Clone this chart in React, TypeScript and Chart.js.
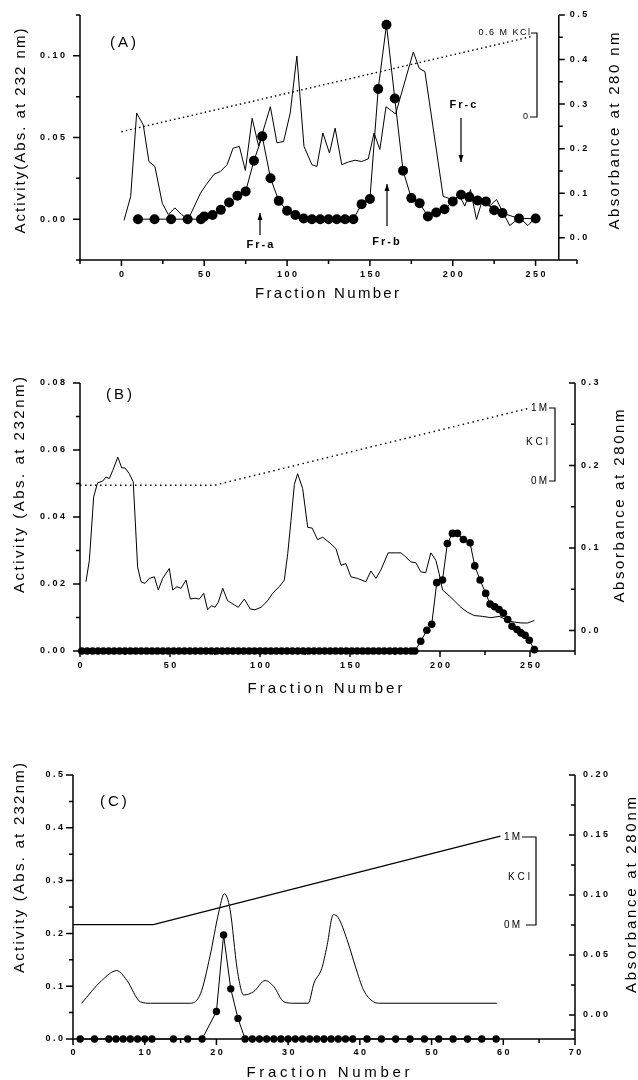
import React, { useEffect, useRef } from "react";
import { Chart, registerables } from "chart.js";

Chart.register(...registerables);

const FONT = "'Liberation Sans', Arial, Helvetica, sans-serif";

// ---------------- Panel A ----------------
const A_ACT_FRAC = [10, 20, 30, 40, 48, 50, 55, 60, 65, 70, 75, 80, 85, 90, 95, 100, 105, 110, 115, 120, 125, 130, 135, 140, 145, 150, 155, 160, 165, 170, 175, 180, 185, 190, 195, 200, 205, 210, 215, 220, 225, 230, 240, 250];
const A_ACT = [0, 0, 0, 0, 0, 0.0017, 0.0025, 0.0057, 0.0102, 0.0143, 0.017, 0.0358, 0.0507, 0.025, 0.0112, 0.0051, 0.0025, 0.0004, 0, 0, 0, 0, 0, 0, 0.0092, 0.0123, 0.0797, 0.119, 0.0739, 0.0297, 0.0129, 0.0098, 0.0017, 0.0041, 0.0061, 0.0108, 0.0149, 0.0135, 0.0114, 0.0108, 0.0055, 0.0037, 0.0004, 0.0004];
const A_ABS_FRAC = [1.6, 5.6, 9.2, 13.2, 16.6, 20.2, 24.7, 28.3, 32.3, 36.3, 40.3, 47.7, 51.2, 55.8, 59.8, 63.8, 67.4, 71.2, 74.8, 78.9, 82.8, 89.9, 93.9, 97.9, 101.9, 105.9, 110.2, 115, 118, 121.6, 125.6, 129, 133, 137, 141, 145, 149, 152.5, 156, 159.7, 163, 165.5, 176.2, 179.8, 183.2, 194.2, 199.3, 204.3, 207.3, 210.7, 214.3, 218, 222, 226.4, 230.4, 234.4, 238.4, 242, 245.4, 248.4];
const A_ABS = [0.039, 0.093, 0.28, 0.253, 0.171, 0.16, 0.077, 0.052, 0.067, 0.052, 0.041, 0.1, 0.119, 0.142, 0.149, 0.164, 0.201, 0.205, 0.151, 0.268, 0.206, 0.294, 0.213, 0.216, 0.28, 0.408, 0.205, 0.164, 0.16, 0.235, 0.19, 0.246, 0.164, 0.17, 0.174, 0.171, 0.177, 0.235, 0.198, 0.294, 0.285, 0.278, 0.417, 0.38, 0.373, 0.093, 0.086, 0.093, 0.071, 0.108, 0.041, 0.086, 0.07, 0.086, 0.056, 0.0275, 0.039, 0.039, 0.0275, 0.039];
const A_KCL_FRAC = [0, 248];
const A_KCL = [0.238, 0.452];
const A_X_TICKS = [0, 50, 100, 150, 200, 250];
const A_X_MINOR = [-25, 25, 75, 125, 175, 225, 275];
const A_L_TICKS = [0, 0.05, 0.1];
const A_L_MINOR = [-0.025, 0.025, 0.075, 0.125];
const A_R_TICKS = [0, 0.1, 0.2, 0.3, 0.4, 0.5];
const A_R_MINOR = [-0.05, 0.05, 0.15, 0.25, 0.35, 0.45];

// ---------------- Panel B ----------------
const B_ACT_FRAC = [1, 4, 7, 10, 13, 16, 19, 22, 25, 28, 31, 34, 37, 40, 43, 46, 49, 52, 55, 58, 61, 64, 67, 70, 73, 76, 79, 82, 85, 88, 91, 94, 97, 100, 103, 106, 109, 112, 115, 118, 121, 124, 127, 130, 133, 136, 139, 142, 145, 148, 151, 154, 157, 160, 163, 166, 169, 172, 175, 178, 181, 184, 186, 189.3, 192.7, 195.4, 198.2, 201.4, 204.1, 206.9, 209.7, 213, 216.7, 219.3, 222.3, 225.4, 227.8, 230.4, 232.8, 235.2, 237.6, 240, 242.8, 245, 247.3, 249.6, 252.4];
const B_ACT = [0, 0, 0, 0, 0, 0, 0, 0, 0, 0, 0, 0, 0, 0, 0, 0, 0, 0, 0, 0, 0, 0, 0, 0, 0, 0, 0, 0, 0, 0, 0, 0, 0, 0, 0, 0, 0, 0, 0, 0, 0, 0, 0, 0, 0, 0, 0, 0, 0, 0, 0, 0, 0, 0, 0, 0, 0, 0, 0, 0, 0, 0, 0, 0.0029, 0.0062, 0.008, 0.0204, 0.0212, 0.0321, 0.0351, 0.0351, 0.0333, 0.0323, 0.0254, 0.0212, 0.0172, 0.014, 0.0132, 0.0124, 0.0113, 0.0094, 0.0074, 0.0064, 0.0054, 0.0047, 0.0032, 0.0004];
const B_ABS_FRAC = [3.3, 5.2, 7.6, 9.8, 12.6, 14.4, 16.3, 18.2, 21, 23.2, 25, 27.4, 29.6, 32, 33.9, 36.1, 38.5, 41.3, 43.5, 45.9, 49.6, 51.5, 53.9, 56.1, 58.9, 61.3, 63.9, 66.3, 68.7, 70.9, 73.1, 75, 76.8, 79.3, 82, 85.7, 87.9, 91.3, 94.6, 97.2, 100.6, 104.3, 107, 110.7, 113.5, 115.4, 117.2, 119.1, 120.9, 123.7, 126.5, 129, 132, 134.8, 139.4, 142.2, 145, 147.7, 150.5, 154.2, 158.8, 161.6, 164.4, 167.1, 171.2, 175.5, 178.3, 181, 183.8, 186.6, 189.3, 192.1, 194.9, 197.7, 199.5, 201.4, 205.1, 207.9, 211.6, 215.3, 219, 223.7, 228.3, 232.9, 237.6, 241.3, 245, 248.7, 252.4];
const B_ABS = [0.059, 0.085, 0.162, 0.179, 0.181, 0.186, 0.184, 0.194, 0.21, 0.197, 0.197, 0.19, 0.18, 0.077, 0.059, 0.057, 0.063, 0.065, 0.049, 0.063, 0.075, 0.049, 0.053, 0.051, 0.061, 0.038, 0.039, 0.038, 0.045, 0.025, 0.03, 0.028, 0.034, 0.051, 0.036, 0.031, 0.028, 0.038, 0.026, 0.025, 0.028, 0.036, 0.045, 0.053, 0.061, 0.093, 0.133, 0.177, 0.19, 0.172, 0.125, 0.124, 0.11, 0.113, 0.105, 0.099, 0.079, 0.081, 0.065, 0.063, 0.059, 0.072, 0.063, 0.073, 0.094, 0.094, 0.094, 0.089, 0.083, 0.082, 0.071, 0.07, 0.094, 0.085, 0.069, 0.049, 0.042, 0.036, 0.028, 0.022, 0.018, 0.017, 0.0154, 0.017, 0.012, 0.01, 0.009, 0.009, 0.012];
const B_KCL_FRAC = [0, 74.6, 248.7];
const B_KCL = [0.176, 0.176, 0.269];
const B_X_TICKS = [0, 50, 100, 150, 200, 250];
const B_X_MINOR = [25, 75, 125, 175, 225, 275];
const B_L_TICKS = [0, 0.02, 0.04, 0.06, 0.08];
const B_L_MINOR = [0.01, 0.03, 0.05, 0.07];
const B_R_TICKS = [0, 0.1, 0.2, 0.3];
const B_R_MINOR = [0.05, 0.15, 0.25];

// ---------------- Panel C ----------------
const C_ACT_FRAC = [1, 3, 5, 6, 7, 8, 9, 10, 11, 14, 16, 18, 20, 21, 22, 23, 24, 25, 26, 27, 28, 29, 30, 31, 32, 33, 34, 35, 36, 37, 38, 39, 41, 43, 45, 47, 49, 51, 53, 55, 57, 59];
const C_ACT = [0, 0, 0, 0, 0, 0, 0, 0, 0, 0, 0, 0, 0.052, 0.197, 0.095, 0.039, 0, 0, 0, 0, 0, 0, 0, 0, 0, 0, 0, 0, 0, 0, 0, 0, 0, 0, 0, 0, 0, 0, 0, 0, 0, 0];
const C_ABS_FRAC = [1.2, 4, 6.1, 7.5, 9.4, 10.8, 16.4, 17.8, 19.1, 20.3, 21.1, 21.9, 22.9, 23.8, 25.2, 26.8, 28, 29.4, 30.8, 32.8, 33.6, 34.7, 35.4, 36.3, 37, 38.2, 39.4, 40.5, 41.9, 42.8, 59.1];
const C_ABS = [0.0098, 0.0287, 0.037, 0.029, 0.011, 0.0098, 0.0098, 0.018, 0.049, 0.085, 0.101, 0.088, 0.038, 0.0167, 0.0195, 0.0287, 0.0237, 0.011, 0.0098, 0.0098, 0.0265, 0.039, 0.057, 0.0836, 0.081, 0.063, 0.04, 0.021, 0.011, 0.0098, 0.0098];
const C_KCL_FRAC = [0, 11.2, 59.6];
const C_KCL = [0.0753, 0.0753, 0.149];
const C_X_TICKS = [0, 10, 20, 30, 40, 50, 60, 70];
const C_X_MINOR = [5, 15, 25, 35, 45, 55, 65];
const C_L_TICKS = [0, 0.1, 0.2, 0.3, 0.4, 0.5];
const C_L_MINOR = [0.05, 0.15, 0.25, 0.35, 0.45];
const C_R_TICKS = [0, 0.05, 0.1, 0.15, 0.2];
const C_R_MINOR = [-0.0125, 0.025, 0.075, 0.125, 0.175];

const pts = (xs: number[], ys: number[]) => xs.map((x, i) => ({ x, y: ys[i] }));

function spacedText(ctx: CanvasRenderingContext2D, text: string, x: number, y: number, align: string, spacing: number) {
  const chars = Array.from(text);
  const widths = chars.map((c) => ctx.measureText(c).width);
  const total = widths.reduce((s, w) => s + w, 0) + spacing * (chars.length - 1);
  let cx = align === "left" ? x : align === "right" ? x - total : x - total / 2;
  ctx.textAlign = "left";
  chars.forEach((c, i) => {
    ctx.fillText(c, cx, y);
    cx += widths[i] + spacing;
  });
}

function fittedText(ctx: CanvasRenderingContext2D, text: string, cx: number, cy: number, width: number, font: string, rotate: boolean) {
  ctx.save();
  ctx.font = font;
  ctx.fillStyle = "#000";
  ctx.textBaseline = "middle";
  ctx.translate(cx, cy);
  if (rotate) ctx.rotate(-Math.PI / 2);
  const chars = Array.from(text);
  const natural = chars.reduce((s, c) => s + ctx.measureText(c).width, 0);
  const sp = Math.max(0, (width - natural) / (chars.length - 1));
  spacedText(ctx, text, 0, 0, "center", sp);
  ctx.restore();
}

function label(ctx: CanvasRenderingContext2D, text: string, x: number, y: number, align: string, font: string, spacing: number) {
  ctx.save();
  ctx.font = font;
  ctx.fillStyle = "#000";
  ctx.textBaseline = "middle";
  spacedText(ctx, text, x, y, align, spacing);
  ctx.restore();
}

function poly(ctx: CanvasRenderingContext2D, p: number[][], w: number) {
  ctx.save();
  ctx.strokeStyle = "#000";
  ctx.lineWidth = w;
  ctx.beginPath();
  p.forEach(([x, y], i) => (i ? ctx.lineTo(x, y) : ctx.moveTo(x, y)));
  ctx.stroke();
  ctx.restore();
}

function arrow(ctx: CanvasRenderingContext2D, x: number, yFrom: number, yTo: number) {
  poly(ctx, [[x, yFrom], [x, yTo]], 1.2);
  const d = yTo < yFrom ? 1 : -1;
  ctx.save();
  ctx.fillStyle = "#000";
  ctx.beginPath();
  ctx.moveTo(x, yTo);
  ctx.lineTo(x - 2.5, yTo + d * 7);
  ctx.lineTo(x + 2.5, yTo + d * 7);
  ctx.closePath();
  ctx.fill();
  ctx.restore();
}

interface Frame {
  xMajor: number[]; xMinor: number[];
  lMajor: number[]; lMinor: number[]; lDigits: number;
  rMajor: number[]; rMinor: number[]; rDigits: number;
  rightAt?: number; rightDir: number;
  xLabelY: number; leftLabelGap: number; rightLabelGap: number;
}

function drawFrame(chart: any, f: Frame) {
  const { ctx, chartArea: a } = chart;
  const xs = chart.scales.x, yl = chart.scales.yL, yr = chart.scales.yR;
  const rx = f.rightAt === undefined ? a.right : xs.getPixelForValue(f.rightAt);
  ctx.save();
  ctx.strokeStyle = "#000";
  ctx.lineWidth = 1.5;
  ctx.beginPath();
  ctx.moveTo(a.left, a.top);
  ctx.lineTo(a.left, a.bottom);
  ctx.lineTo(a.right, a.bottom);
  ctx.moveTo(rx, a.top);
  ctx.lineTo(rx, a.bottom);
  f.xMajor.forEach((v) => { const p = xs.getPixelForValue(v); ctx.moveTo(p, a.bottom); ctx.lineTo(p, a.bottom + 6); });
  f.xMinor.forEach((v) => { const p = xs.getPixelForValue(v); ctx.moveTo(p, a.bottom); ctx.lineTo(p, a.bottom + 4); });
  f.lMajor.forEach((v) => { const p = yl.getPixelForValue(v); ctx.moveTo(a.left, p); ctx.lineTo(a.left - 7, p); });
  f.lMinor.forEach((v) => { const p = yl.getPixelForValue(v); ctx.moveTo(a.left, p); ctx.lineTo(a.left - 4, p); });
  f.rMajor.forEach((v) => { const p = yr.getPixelForValue(v); ctx.moveTo(rx, p); ctx.lineTo(rx + 6 * f.rightDir, p); });
  f.rMinor.forEach((v) => { const p = yr.getPixelForValue(v); ctx.moveTo(rx, p); ctx.lineTo(rx + 4 * f.rightDir, p); });
  ctx.stroke();
  ctx.fillStyle = "#000";
  ctx.font = `bold 9px ${FONT}`;
  ctx.textBaseline = "middle";
  f.xMajor.forEach((v) => spacedText(ctx, v.toFixed(0), xs.getPixelForValue(v), a.bottom + f.xLabelY, "center", 2.5));
  f.lMajor.forEach((v) => spacedText(ctx, v.toFixed(f.lDigits), a.left - f.leftLabelGap, yl.getPixelForValue(v), "right", 2.5));
  f.rMajor.forEach((v) => spacedText(ctx, v.toFixed(f.rDigits), rx + f.rightLabelGap, yr.getPixelForValue(v), "left", 2.5));
  ctx.restore();
}

const TITLE = `15px ${FONT}`;

function drawA(chart: any) {
  const ctx = chart.ctx as CanvasRenderingContext2D;
  drawFrame(chart, {
    xMajor: A_X_TICKS, xMinor: A_X_MINOR,
    lMajor: A_L_TICKS, lMinor: A_L_MINOR, lDigits: 2,
    rMajor: A_R_TICKS, rMinor: A_R_MINOR, rDigits: 1,
    rightAt: 264, rightDir: 1, xLabelY: 15, leftLabelGap: 15, rightLabelGap: 11,
  });
  fittedText(ctx, "Activity(Abs. at 232 nm)", 21, 131, 205, TITLE, true);
  fittedText(ctx, "Absorbance at 280 nm", 615, 131, 197, TITLE, true);
  fittedText(ctx, "Fraction Number", 327, 294, 144, TITLE, false);
  label(ctx, "(A)", 110, 43, "left", TITLE, 3);
  const fr = `bold 11px ${FONT}`;
  label(ctx, "Fr-a", 260, 245, "center", fr, 2);
  arrow(ctx, 260, 235, 213);
  label(ctx, "Fr-b", 386, 242, "center", fr, 2);
  arrow(ctx, 387, 226, 184);
  label(ctx, "Fr-c", 463, 105, "center", fr, 2);
  arrow(ctx, 461, 118, 162);
  label(ctx, "0.6 M KCl", 530, 33, "right", `9px ${FONT}`, 1.5);
  poly(ctx, [[531, 33], [537, 33], [537, 117], [530, 117]], 1.2);
  label(ctx, "0", 528, 117, "right", `9px ${FONT}`, 0);
}

function drawB(chart: any) {
  const ctx = chart.ctx as CanvasRenderingContext2D;
  drawFrame(chart, {
    xMajor: B_X_TICKS, xMinor: B_X_MINOR,
    lMajor: B_L_TICKS, lMinor: B_L_MINOR, lDigits: 2,
    rMajor: B_R_TICKS, rMinor: B_R_MINOR, rDigits: 1,
    rightDir: -1, xLabelY: 15, leftLabelGap: 15, rightLabelGap: 6,
  });
  fittedText(ctx, "Activity (Abs. at 232nm)", 20, 145, 216, TITLE, true);
  fittedText(ctx, "Absorbance at 280nm", 620, 166, 193, TITLE, true);
  fittedText(ctx, "Fraction Number", 325, 349, 155, TITLE, false);
  label(ctx, "(B)", 106, 55, "left", TITLE, 3);
  const f = `10px ${FONT}`;
  label(ctx, "1M", 547, 68, "right", f, 2);
  label(ctx, "KCl", 548, 102, "right", f, 3);
  label(ctx, "0M", 547, 141, "right", f, 2);
  poly(ctx, [[549, 68], [555, 68], [555, 141], [549, 141]], 1.2);
}

function drawC(chart: any) {
  const ctx = chart.ctx as CanvasRenderingContext2D;
  drawFrame(chart, {
    xMajor: C_X_TICKS, xMinor: C_X_MINOR,
    lMajor: C_L_TICKS, lMinor: C_L_MINOR, lDigits: 1,
    rMajor: C_R_TICKS, rMinor: C_R_MINOR, rDigits: 2,
    rightDir: -1, xLabelY: 14, leftLabelGap: 10, rightLabelGap: 8,
  });
  fittedText(ctx, "Activity (Abs. at 232nm)", 20, 138, 210, TITLE, true);
  fittedText(ctx, "Absorbance at 280nm", 632, 165, 196, TITLE, true);
  fittedText(ctx, "Fraction Number", 328, 343, 163, TITLE, false);
  label(ctx, "(C)", 100, 72, "left", TITLE, 3);
  const f = `10px ${FONT}`;
  label(ctx, "1M", 520, 107, "right", f, 2);
  label(ctx, "KCl", 530, 147, "right", f, 3);
  label(ctx, "0M", 520, 195, "right", f, 2);
  poly(ctx, [[522, 107], [536, 107], [536, 195], [526, 195]], 1.2);
}

const dots = (data: any, r: number) => ({
  data, yAxisID: "yL", borderColor: "#000", backgroundColor: "#000", borderWidth: 1,
  pointRadius: r, pointBackgroundColor: "#000", pointBorderWidth: 0, clip: false,
});
const thin = (data: any, extra: any = {}) => ({
  data, yAxisID: "yR", borderColor: "#000", borderWidth: 1, pointRadius: 0, clip: false, ...extra,
});

function makeConfig(p: any) {
  return {
    type: "line",
    data: { datasets: p.datasets },
    options: {
      responsive: false, animation: false, events: [],
      layout: { padding: p.padding },
      plugins: { legend: { display: false }, tooltip: { enabled: false } },
      scales: {
        x: { type: "linear", min: p.x[0], max: p.x[1], display: false },
        yL: { type: "linear", position: "left", min: p.yL[0], max: p.yL[1], display: false },
        yR: { type: "linear", position: "right", min: p.yR[0], max: p.yR[1], display: false },
      },
    },
    plugins: [{ id: "frame", afterDraw: (chart: any) => p.draw(chart) }],
  };
}

const PANELS = [
  {
    top: 0, height: 310,
    padding: { left: 80, right: 61, top: 15, bottom: 50 },
    x: [-25, 275], yL: [-0.025, 0.125], yR: [-0.05, 0.5], draw: drawA,
    datasets: [
      dots(pts(A_ACT_FRAC, A_ACT), 5),
      thin(pts(A_ABS_FRAC, A_ABS)),
      thin(pts(A_KCL_FRAC, A_KCL), { borderWidth: 1.4, borderDash: [1.5, 3] }),
    ],
  },
  {
    top: 340, height: 362,
    padding: { left: 80, right: 63, top: 43, bottom: 51 },
    x: [0, 275], yL: [0, 0.08], yR: [-0.025, 0.3], draw: drawB,
    datasets: [
      dots(pts(B_ACT_FRAC, B_ACT), 3.8),
      thin(pts(B_ABS_FRAC, B_ABS)),
      thin(pts(B_KCL_FRAC, B_KCL), { borderWidth: 1.4, borderDash: [1.5, 3.5] }),
    ],
  },
  {
    top: 730, height: 350,
    padding: { left: 73, right: 63, top: 45, bottom: 41 },
    x: [0, 70], yL: [0, 0.5], yR: [-0.02, 0.2], draw: drawC,
    datasets: [
      dots(pts(C_ACT_FRAC, C_ACT), 3.7),
      thin(pts(C_ABS_FRAC, C_ABS), { cubicInterpolationMode: "monotone" }),
      thin(pts(C_KCL_FRAC, C_KCL), { borderWidth: 1.2 }),
    ],
  },
];

function Panel({ spec }: { spec: any }) {
  const ref = useRef<HTMLCanvasElement>(null);
  useEffect(() => {
    const chart = new Chart(ref.current as HTMLCanvasElement, makeConfig(spec) as any);
    return () => chart.destroy();
  }, []);
  return (
    <canvas
      ref={ref}
      width={638}
      height={spec.height}
      style={{ position: "absolute", left: 0, top: spec.top, width: 638, height: spec.height }}
    />
  );
}

export default function App() {
  return (
    <div style={{ position: "absolute", left: 0, top: 0, width: 638, height: 1080, background: "#fff", overflow: "hidden" }}>
      {PANELS.map((p, i) => (
        <Panel key={i} spec={p} />
      ))}
    </div>
  );
}
